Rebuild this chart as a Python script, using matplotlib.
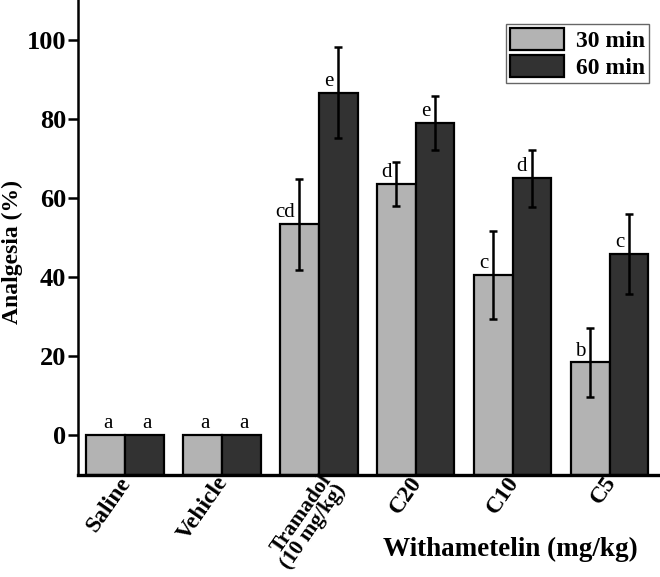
import matplotlib
matplotlib.use("Agg")
import matplotlib.pyplot as plt
import numpy as np

plt.rcParams['font.family'] = ['Liberation Serif', 'DejaVu Serif']

groups = ['Saline', 'Vehicle', 'Tramadol\n(10 mg/kg)', 'C20', 'C10', 'C5']
series = ['30 min', '60 min']
vals_30 = [0, 0, 53.3, 63.5, 40.5, 18.4]
err_30 = [0, 0, 11.5, 5.5, 11.0, 8.8]
vals_60 = [0, 0, 86.6, 78.9, 64.9, 45.7]
err_60 = [0, 0, 11.5, 6.9, 7.3, 10.1]
letters_30 = ['a', 'a', 'cd', 'd', 'c', 'b']
letters_60 = ['a', 'a', 'e', 'e', 'd', 'c']

fig = plt.figure(figsize=(6.6, 5.77), dpi=100)
ax = fig.add_axes([0.118, 0.177, 0.879, 0.823])

ymin, ymax = -10, 110
x = np.arange(len(groups))
w = 0.4
colors = ['#b3b3b3', '#323232']

for k, (v, e, lab, c) in enumerate([(vals_30, err_30, letters_30, colors[0]),
                                     (vals_60, err_60, letters_60, colors[1])]):
    pos = x + (k - 0.5) * w
    v = np.array(v)
    e = np.array(e)
    # bars in the original start at the bottom of the axis
    ax.bar(pos, v - ymin, bottom=ymin, width=w, color=c, edgecolor='black',
           linewidth=1.6, label=series[k], zorder=2)
    has_err = e > 0
    ax.errorbar(pos[has_err], v[has_err], yerr=e[has_err],
                fmt='none', ecolor='black', elinewidth=1.8, capsize=2.7,
                capthick=1.8, zorder=3)
    for p, val, er, t in zip(pos, v, e, lab):
        if er > 0:
            ax.text(p - 0.05, val + 0.5, t, ha='right', va='bottom', fontsize=15)
        else:
            ax.text(p + 0.03, val + 0.5, t, ha='center', va='bottom', fontsize=15)

ax.set_xlim(-0.485, 5.5)
ax.set_ylim(ymin, ymax)
ax.set_yticks([0, 20, 40, 60, 80, 100])
ax.set_xticks(x)
ax.set_xticklabels([])
# group names drawn by hand so the two-line one can sit like the original
for xi, name in zip(x, groups):
    if '\n' in name:
        dx, y0, fs = 0.16, -0.014, 15.5
    else:
        dx, y0, fs = 0.02, -0.008, 17
    ax.text(xi + dx, y0, name, transform=ax.get_xaxis_transform(),
            rotation=55, ha='right', va='center', rotation_mode='anchor',
            fontsize=fs, fontweight='bold', linespacing=0.8)
for lbl in ax.get_yticklabels():
    lbl.set_fontweight('bold')
    lbl.set_fontsize(19)
ax.tick_params(axis='x', length=0)
ax.tick_params(axis='y', direction='out', length=7, width=1.8, pad=1.5)

ax.spines['top'].set_visible(False)
ax.spines['right'].set_visible(False)
ax.spines['left'].set_linewidth(1.8)
ax.spines['bottom'].set_linewidth(2.4)

ax.set_ylabel('Analgesia (%)', fontsize=17, fontweight='bold')
ax.yaxis.set_label_coords(-0.094, 0.47)
fig.text(0.774, 0.047, 'Withametelin (mg/kg)', fontsize=19.5, fontweight='bold',
         ha='center', va='center')

leg = ax.legend(loc='upper right', bbox_to_anchor=(0.9845, 0.9495),
                prop={'weight': 'bold', 'size': 17}, fancybox=False,
                edgecolor='#666666', framealpha=1, handlelength=2.3,
                handleheight=1.06, borderpad=0.17, labelspacing=0.13,
                handletextpad=0.5, borderaxespad=0)
leg.get_frame().set_linewidth(1)

fig.savefig('out.png', dpi=100)
